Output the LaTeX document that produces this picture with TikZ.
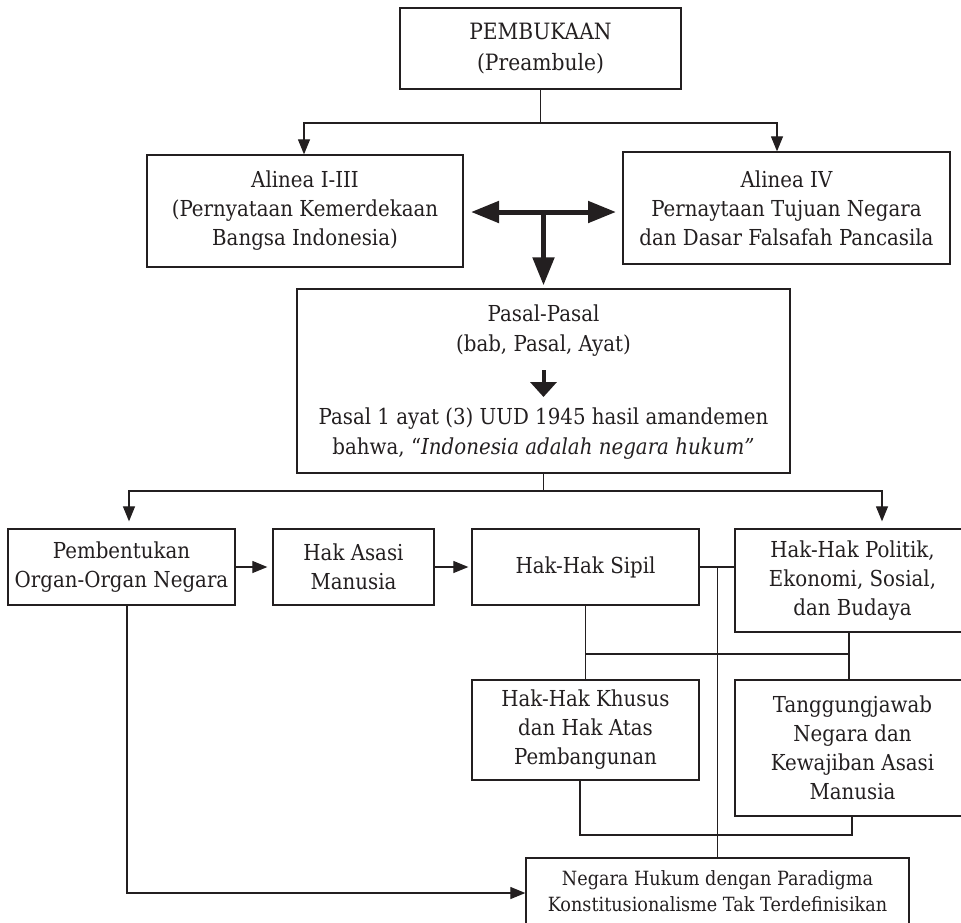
\documentclass[tikz,border=0pt]{standalone}
\usepackage{fontspec}
\setmainfont{DejaVu Serif}[FakeStretch=0.9]
\usetikzlibrary{arrows.meta,calc}
\definecolor{ink}{HTML}{231F20}
\newcommand\mainsize{\fontsize{22}{29}\selectfont}
\newcommand\smallersize{\fontsize{19.6}{26}\selectfont}
\tikzset{
  box/.style={draw=ink, line width=1.3pt, inner sep=0pt, align=center, text=ink, font=\mainsize},
  label/.style={inner sep=0pt, align=center, text=ink, font=\mainsize},
  link/.style={draw=ink, line width=1.2pt},
  arr/.style={link, -{Triangle[length=15pt, width=12pt]}},
  heavy/.style={draw=ink, line width=5pt, -{Triangle[length=28pt, width=21pt]}},
  heavyboth/.style={draw=ink, line width=5pt, {Triangle[length=28pt, width=21pt]}-{Triangle[length=28pt, width=21pt]}},
  midarrow/.style={draw=ink, line width=4pt, -{Triangle[length=15pt, width=26pt]}}
}
\begin{document}
\begin{tikzpicture}[x=1pt,y=-1pt]
\useasboundingbox (0,0) rectangle (961,922);
\clip (0,0) rectangle (961,922);

% top level
\node[box, minimum width=281pt, minimum height=81pt, font=\fontsize{22.5}{31}\selectfont] (pem) at (540.5,48.5) {PEMBUKAAN\\(Preambule)};
\node[box, minimum width=316pt, minimum height=112pt] (al13) at (305,211) {Alinea I-III\\(Pernyataan Kemerdekaan\\Bangsa Indonesia)};
\node[box, minimum width=327pt, minimum height=112pt] (al4) at (786.5,208) {Alinea IV\\Pernaytaan Tujuan Negara\\dan Dasar Falsafah Pancasila};

% articles box with its inner texts
\node[box, minimum width=493pt, minimum height=184pt] (pasal) at (543.5,381) {};
\node[label, font=\fontsize{22}{30}\selectfont] (pasalA) at (543.5,331) {Pasal-Pasal\\(bab, Pasal, Ayat)};
\node[label, font=\fontsize{22}{30}\selectfont] (pasalB) at (543.5,434) {Pasal 1 ayat (3) UUD 1945 hasil amandemen\\bahwa, “\textit{Indonesia adalah negara hukum”}};
\coordinate (pa1) at (543.5,370);
\coordinate (pa2) at (543.5,397);
\draw[midarrow] (pa1) -- (pa2);

% second row
\node[box, minimum width=227pt, minimum height=76pt] (pemb) at (121.5,567) {Pembentukan\\Organ-Organ Negara};
\node[box, minimum width=161pt, minimum height=76pt] (ham) at (353.5,567) {Hak Asasi\\Manusia};
\node[box, minimum width=227pt, minimum height=76pt] (sipil) at (585.5,567) {Hak-Hak Sipil};
\node[box, minimum width=235pt, minimum height=103pt] (politik) at (852.5,580.5) {Hak-Hak Politik,\\Ekonomi, Sosial,\\dan Budaya};

% third row
\node[box, minimum width=227pt, minimum height=100pt] (khusus) at (585.5,730) {Hak-Hak Khusus\\dan Hak Atas\\Pembangunan};
\node[box, minimum width=235pt, minimum height=136pt] (tang) at (852.5,748) {Tanggungjawab\\Negara dan\\Kewajiban Asasi\\Manusia};

% bottom box
\node[box, minimum width=383pt, minimum height=66pt, font=\smallersize] (neg) at (717.5,891) {Negara Hukum dengan Paradigma\\Konstitusionalisme Tak Terdefinisikan};

% preamble branches
\coordinate (pemjoin) at (540.5,123);
\draw[link] (pem.south) -- (pemjoin);
\draw[arr] (pemjoin) -| ([xshift=-1pt]al13.north);
\draw[arr] (pemjoin) -| ([xshift=-9.5pt]al4.north);

% heavy arrows between the paragraphs and down to the articles
\coordinate (tL) at (471,212);
\coordinate (tR) at (616,212);
\coordinate (tM) at (543.5,212);
\draw[heavyboth] (tL) -- (tR);
\draw[heavy, shorten >=3pt] (tM) -- (pasal.north);

% articles branches
\coordinate (pasjoin) at (543.5,491);
\draw[link] (pasal.south) -- (pasjoin);
\draw[arr, shorten >=7pt] (pasjoin) -| ([xshift=7.5pt]pemb.north);
\draw[arr, shorten >=7pt] (pasjoin) -| ([xshift=29.5pt]politik.north);

% row arrows
\draw[arr, shorten >=5pt] (pemb.east) -- (ham.west);
\draw[arr, shorten >=3pt] (ham.east) -- (sipil.west);
\draw[link] (sipil.east) -- (sipil.east -| politik.west);
\draw[link] (neg.north) -- (neg.north |- sipil.east);

% rights links
\coordinate (midR) at (849,654);
\draw[link] (sipil.south) -- (khusus.north);
\draw[link] (sipil.south |- midR) -- (midR);
\draw[link] ([xshift=-3.5pt]politik.south) -- ([xshift=-3.5pt]tang.north);

\coordinate (botR) at (852,835);
\draw[link] ([xshift=-5.5pt]khusus.south) |- (botR) -- (botR |- tang.south);

% organs to the rule of law
\draw[arr] ([xshift=5.5pt]pemb.south) |- ([yshift=-2pt]neg.west);
\end{tikzpicture}
\end{document}
